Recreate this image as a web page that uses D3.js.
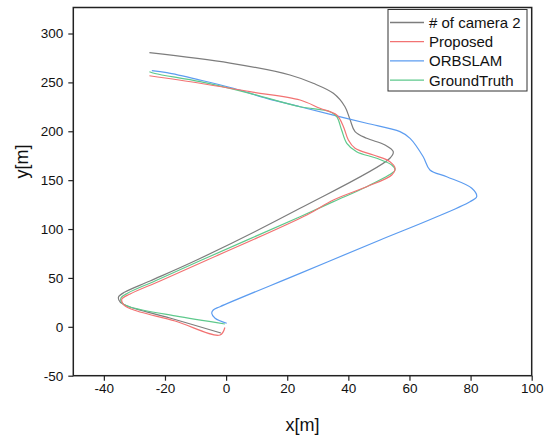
<!DOCTYPE html>
<html><head><meta charset="utf-8">
<script src="https://cdn.jsdelivr.net/npm/d3@7"></script>
<style>body{margin:0;background:#fff}svg{display:block}text{font-family:"Liberation Sans",Arial,sans-serif;fill:#111}</style>
</head><body><svg id="c" width="549" height="439"></svg>
<script>
const xTicks = [-40,-20,0,20,40,60,80,100];
const yTicks = [-50,0,50,100,150,200,250,300];
const seriesNames = ["# of camera 2","Proposed","ORBSLAM","GroundTruth"];
const seriesColors = ["#7d7d7d","#f27373","#5c9cf0","#5ec98c"];
const cameraX = [-25.1,1.3,20.9,28.5,35.1,38.9,40.6,42.2,46,52,54.7,53.6,24.2,-9.6,-24.9,-33.1,-35.2,-34.7,-32.4,-18.4,-1.7];
const cameraY = [280.4,269.8,257.6,249.1,238.8,225.1,211.5,199.6,192.8,186,179.1,172.4,121.2,68.3,46.9,35.6,30.5,25.4,21.3,9,-6.3];
const proposedX = [-25.1,-8.5,7.8,24.2,30.7,36.2,38.4,40,42.2,48.2,53.6,55.3,54.2,46,35.1,26.4,-6.2,-21.6,-31.4,-34.1,-33.7,-31.1,-16.7,-2,-0.4];
const proposedY = [256.8,249.1,240.5,232,223.5,216.6,204.7,191.1,182.6,175.7,168.9,162.1,155.3,143.3,129.7,114.4,68.3,46.9,33.6,28.4,23.3,18.2,5.9,-8.4,-0.7];
const orbX = [-24.3,-19.4,-8.5,2.4,13.3,24.2,35.1,46,56.9,60.2,64.5,66.7,72.2,80.4,82,79.8,67.8,50.4,24.2,-2,-4.2,-4.7,-3.6,0.2];
const orbY = [262,259.9,252.4,244,233.7,225.1,216.6,208.2,199.6,192.8,174,160.4,153.5,141.7,133.1,128,111,88.8,54.7,20.6,17.2,13.8,8.7,3.6];
const gtX = [-25.1,-23.3,-8.5,7.8,24.2,34,36.2,37.8,39.5,42.7,49.3,54.2,55.3,54.2,46,35.1,24.2,-8,-23.3,-32.1,-34.4,-34.1,-31.4,-16.7,-0.4];
const gtY = [260.9,259.1,250.7,238.8,225.1,220,214.9,201.3,187.7,179.1,172.4,165.5,160.4,157,143.3,128,112.6,68.3,46.9,34.6,29.5,24.4,20.3,11.1,2.9];

const svg = d3.select("#c");
const L=73.3,R=531.7,T=7.5,B=375.7;
const x = d3.scaleLinear().domain([-50,100]).range([L,R]);
const y = d3.scaleLinear().domain([-50,326.6]).range([B,T]);

const series = [[cameraX,cameraY],[proposedX,proposedY],[orbX,orbY],[gtX,gtY]];
const line = d3.line().x(d=>x(d[0])).y(d=>y(d[1])).curve(d3.curveCatmullRom.alpha(0.5));
const order=[0,2,3,1];
order.forEach(i=>{
  const [xs,ys]=series[i];
  svg.append("path").datum(xs.map((v,k)=>[v,ys[k]])).attr("d",line)
    .attr("fill","none").attr("stroke",seriesColors[i]).attr("stroke-width",1.2);
});

const fmt = d => String(d);
const xMinor = d3.range(-50,101,10).filter(v=>!xTicks.includes(v));
const yMinor = d3.range(-25,326,50);
const gx = svg.append("g").attr("transform",`translate(0,${B})`);
gx.call(d3.axisBottom(x).tickValues(xMinor).tickSize(3).tickFormat(""));
gx.call(d3.axisBottom(x).tickValues(xTicks).tickSize(5).tickPadding(3).tickFormat(fmt));
gx.selectAll("text").attr("font-size",13.5).style("font-family","Liberation Sans, Arial");
const gy = svg.append("g").attr("transform",`translate(${L},0)`);
gy.call(d3.axisLeft(y).tickValues(yMinor).tickSize(3).tickFormat(""));
gy.call(d3.axisLeft(y).tickValues(yTicks).tickSize(5).tickPadding(5).tickFormat(fmt));
gy.selectAll("text").attr("font-size",13.5).style("font-family","Liberation Sans, Arial");
svg.selectAll(".domain").remove();
svg.selectAll(".tick line").attr("stroke","#222").attr("stroke-width",1.2);
svg.append("rect").attr("x",L).attr("y",T).attr("width",R-L).attr("height",B-T)
  .attr("fill","none").attr("stroke","#222").attr("stroke-width",1.5);

svg.append("text").attr("x",(L+R)/2).attr("y",431).attr("text-anchor","middle").attr("font-size",18).text("x[m]");
svg.append("text").attr("transform",`translate(28,${(T+B)/2-30}) rotate(-90)`).attr("text-anchor","middle").attr("font-size",18).text("y[m]");

const lg = svg.append("g");
lg.append("rect").attr("x",388).attr("y",9.5).attr("width",139).attr("height",81.5)
  .attr("fill","#fff").attr("stroke","#333").attr("stroke-width",1);
seriesNames.forEach((n,i)=>{
  const yy=22.5+i*19.2;
  lg.append("line").attr("x1",390).attr("x2",424).attr("y1",yy).attr("y2",yy)
    .attr("stroke",seriesColors[i]).attr("stroke-width",1.3);
  lg.append("text").attr("x",429).attr("y",yy+5.5).attr("font-size",15).text(n);
});
</script></body></html>
